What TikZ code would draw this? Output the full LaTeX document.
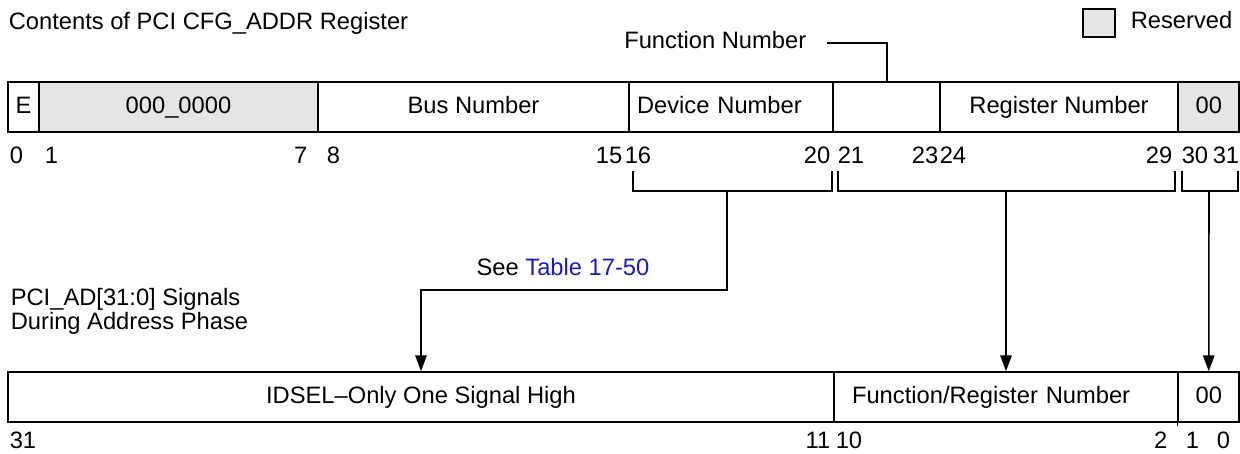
\documentclass[tikz,border=0pt]{standalone}
\usepackage{fontspec}
\setmainfont{Liberation Sans}
\usepackage{tikz}
\usetikzlibrary{arrows.meta}
\definecolor{linkblue}{RGB}{25,25,200}

\begin{document}
\begin{tikzpicture}[x=0.02cm,y=-0.02cm,
   font=\fontsize{13.5}{16}\selectfont,line width=0.9pt,
   fld/.style={draw,minimum height=1cm,inner sep=0pt,
     text height=9.5pt,text depth=2.5pt},
   rsv/.style={fld,fill=black!10},
   txt/.style={inner sep=0pt},
   arr/.style={-{Triangle[length=9pt,width=6.5pt]}}]
  \useasboundingbox (0,0) rectangle (1240,453);
  % heading and legend
  \node[txt,anchor=base west] (title) at (8,30) {Contents of PCI CFG\_ADDR Register};
  \node[rsv,minimum width=0.64cm,minimum height=0.56cm] (key) at (1099,23) {};
  \node[txt,anchor=base west] (keytxt) at (1130,29) {Reserved};
  \node[txt,anchor=base east] (fnum) at (807,48) {Function Number};
  % CFG_ADDR fields
  \node[fld,minimum width=0.62cm] (en) at (23.5,107) {E};
  \node[rsv,minimum width=5.58cm] (zero) at (178.5,107) {000\_0000};
  \node[fld,minimum width=6.22cm] (bus) at (473.5,107) {Bus Number};
  \node[fld,minimum width=4.08cm,inner xsep=0.16cm,text width=3.76cm,
    align=left] (dev) at (731,107) {Device Number};
  \node[fld,minimum width=2.14cm] (fun) at (887,107) {};
  \node[fld,minimum width=4.76cm] (reg) at (1059,107) {Register Number};
  \node[rsv,minimum width=1.215cm] (low) at (1208.75,107) {00};
  \coordinate (fnend) at (827,43);
  \draw (fnend) -| (fun.north);
  % bit numbers, upper
  \node[txt,anchor=base west] (u0) at (9,163) {0};
  \node[txt,anchor=base west] (u1) at (44,163) {1};
  \node[txt,anchor=base east] (u7) at (308,163) {7};
  \node[txt,anchor=base west] (u8) at (326,163) {8};
  \node[txt,anchor=base east] (u15) at (623,163) {15};
  \node[txt,anchor=base west] (u16) at (624,163) {16};
  \node[txt,anchor=base east] (u20) at (831,163) {20};
  \node[txt,anchor=base west] (u21) at (837,163) {21};
  \node[txt,anchor=base east] (u23) at (939,163) {23};
  \node[txt,anchor=base west] (u24) at (939,163) {24};
  \node[txt,anchor=base east] (u29) at (1173,163) {29};
  \node[txt,anchor=base west] (u30) at (1181,163) {30};
  \node[txt,anchor=base west] (u31) at (1212,163) {31};
  % brackets
  \coordinate (d16) at (633,171); \coordinate (d20) at (832,171);
  \coordinate (f21) at (838,171); \coordinate (f29) at (1175,171);
  \coordinate (z30) at (1182,171); \coordinate (z31) at (1238,171);
  \draw (d16) -- ++(0,20) -| (d20);
  \draw (f21) -- ++(0,20) -| (f29);
  \draw (z30) -- ++(0,20) -| (z31);
  \coordinate (dmid) at (727,191);
  \coordinate (fmid) at (1006,191);
  \coordinate (zmid) at (1209,191);
  \coordinate (bend) at (727,290);
  \node[txt,anchor=base] (see) at (563,275) {See \textcolor{linkblue}{Table 17-50}};
  % PCI_AD fields
  \node[txt,anchor=base west,align=left,font=\fontsize{13.5}{12}\selectfont]
    (sig) at (10,329) {PCI\_AD[31:0] Signals\\During Address Phase};
  \node[fld,minimum width=16.52cm] (idsel) at (421,397) {IDSEL--Only One Signal High};
  \node[fld,minimum width=6.88cm,inner xsep=0.36cm,text width=6.16cm,
    align=left] (funreg) at (1006,397) {Function/Register Number};
  \node[fld,minimum width=1.215cm] (lo) at (1208.75,397) {00};
  \draw (lo.south west) -- ++(0,3);
  \draw[arr] (dmid) -- (bend) -| (idsel.north);
  \draw[arr] (fmid) -- (funreg.north);
  \draw[arr] (zmid) -- (lo.north);
  % bit numbers, lower
  \node[txt,anchor=base west] (l31) at (9,448) {31};
  \node[txt,anchor=base east] (l11) at (831,448) {11};
  \node[txt,anchor=base west] (l10) at (835,448) {10};
  \node[txt,anchor=base east] (l2) at (1168,448) {2};
  \node[txt,anchor=base west] (l1) at (1185,448) {1};
  \node[txt,anchor=base west] (l0) at (1216,448) {0};
\end{tikzpicture}
\end{document}
